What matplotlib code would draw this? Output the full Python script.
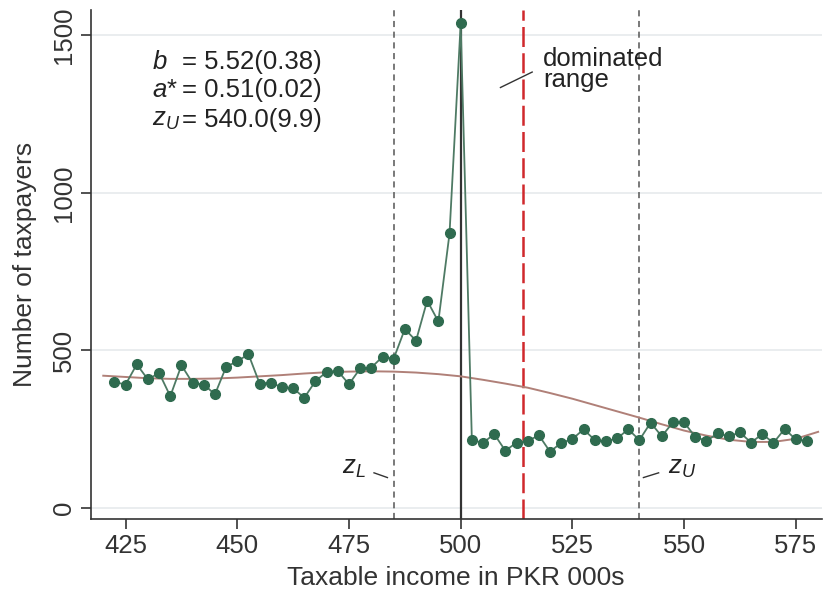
import matplotlib
matplotlib.use("Agg")
import matplotlib.pyplot as plt

plt.rcParams['font.family'] = ['Liberation Sans', 'DejaVu Sans']
plt.rcParams['mathtext.fontset'] = 'custom'
plt.rcParams['mathtext.rm'] = 'Liberation Sans'
plt.rcParams['mathtext.it'] = 'Liberation Sans:italic'

# Observed bunching data (bins of 2.5, PKR 000s)
income_bins = [422.5, 425, 427.5, 430, 432.5, 435, 437.5, 440, 442.5, 445,
               447.5, 450, 452.5, 455, 457.5, 460, 462.5, 465, 467.5, 470,
               472.5, 475, 477.5, 480, 482.5, 485, 487.5, 490, 492.5, 495,
               497.5, 500, 502.5, 505, 507.5, 510, 512.5, 515, 517.5, 520,
               522.5, 525, 527.5, 530, 532.5, 535, 537.5, 540, 542.5, 545,
               547.5, 550, 552.5, 555, 557.5, 560, 562.5, 565, 567.5, 570,
               572.5, 575, 577.5]
taxpayers = [400, 392, 456, 408, 429, 355, 453, 397, 392, 361,
             448, 466, 488, 395, 398, 383, 380, 350, 403, 432,
             435, 393, 443, 446, 480, 474, 568, 531, 658, 592,
             871, 1538, 216, 207, 235, 182, 208, 213, 231, 179,
             207, 219, 250, 216, 212, 221, 250, 216, 271, 228,
             272, 272, 226, 213, 237, 228, 240, 208, 235, 207,
             251, 218, 213]

# Counterfactual density
cf_x = [420, 425, 430, 435, 440, 445, 450, 455, 460, 465, 470, 475, 480,
        485, 490, 495, 500, 505, 510, 515, 520, 525, 530, 535, 540, 545,
        550, 555, 560, 565, 570, 575, 580]
cf_y = [420, 416, 412, 410, 410, 411, 414, 418, 422, 427, 431, 433, 434,
        433, 430, 425, 418, 407, 395, 382, 365, 347, 327, 307, 287, 266,
        246, 230, 217, 210, 210, 220, 242]

z_L, kink, dominated, z_U = 485, 500, 514, 540
x_ticks = [425, 450, 475, 500, 525, 550, 575]
y_ticks = [0, 500, 1000, 1500]

fig = plt.figure(figsize=(8.25, 6.03), dpi=100)
ax = fig.add_axes([0.110, 0.139, 0.886, 0.844])

FS = 18.5
ax.set_xlim(417.2, 580.8)
ax.set_ylim(-35, 1579)
ax.set_yticks(y_ticks)
ax.set_xticks(x_ticks)
ax.yaxis.grid(True, color='#e6eaec', lw=1.2)
ax.set_axisbelow(True)
for s in ['top', 'right']:
    ax.spines[s].set_visible(False)
for s in ['left', 'bottom']:
    ax.spines[s].set_color('#333333')
    ax.spines[s].set_linewidth(1.2)
ax.tick_params(axis='both', direction='out', length=7, width=1.2, color='#333333',
               labelsize=FS, labelcolor='#333333')
ax.tick_params(axis='y', labelrotation=90)
for lab in ax.get_yticklabels():
    lab.set_va('center')

ax.axvline(z_L, color='#555555', lw=1.1, ls=(0, (4, 3)))
ax.axvline(z_U, color='#555555', lw=1.1, ls=(0, (4, 3)))
ax.axvline(kink, color='#333333', lw=1.6)
ax.axvline(dominated, color='#d0282c', lw=1.8, ls=(0, (8, 2.5)))

ax.plot(cf_x, cf_y, color='#b08078', lw=1.4, zorder=3)
ax.plot(income_bins, taxpayers, color='#4e7a64', lw=1.3, marker='o',
        markersize=7, markerfacecolor='#2f6b4f', markeredgecolor='#2f6b4f', zorder=4)

ax.set_xlabel('Taxable income in PKR 000s', fontsize=19, color='#333333', labelpad=6)
ax.set_ylabel('Number of taxpayers', fontsize=19, color='#333333', labelpad=11)

# Estimates block
tc = '#222222'
ax.text(430.9, 1414, r'$b$', fontsize=FS, color=tc, va='center', ha='left')
ax.text(430.9, 1326, r'$a$*', fontsize=FS, color=tc, va='center', ha='left')
ax.text(430.9, 1231, r'$z_U$', fontsize=FS, color=tc, va='center', ha='left')
ax.text(437.6, 1414, '= 5.52(0.38)', fontsize=FS, color=tc, va='center', ha='left')
ax.text(437.6, 1326, '= 0.51(0.02)', fontsize=FS, color=tc, va='center', ha='left')
ax.text(437.6, 1231, '= 540.0(9.9)', fontsize=FS, color=tc, va='center', ha='left')

# dominated range label
ax.text(518.5, 1392, 'dominated\nrange', fontsize=FS, color=tc, va='center', ha='left',
        linespacing=0.85)
ax.plot([508.9, 516.0], [1334, 1383], color='#333333', lw=1.0)

# z_L / z_U labels
ax.text(476.2, 126, r'$z_L$', fontsize=FS, color=tc, va='center', ha='center')
ax.plot([480.6, 483.6], [112, 97], color='#333333', lw=1.0)
ax.text(549.5, 126, r'$z_U$', fontsize=FS, color=tc, va='center', ha='center')
ax.plot([540.9, 544.3], [97, 112], color='#333333', lw=1.0)

fig.savefig('out.png', dpi=100)
